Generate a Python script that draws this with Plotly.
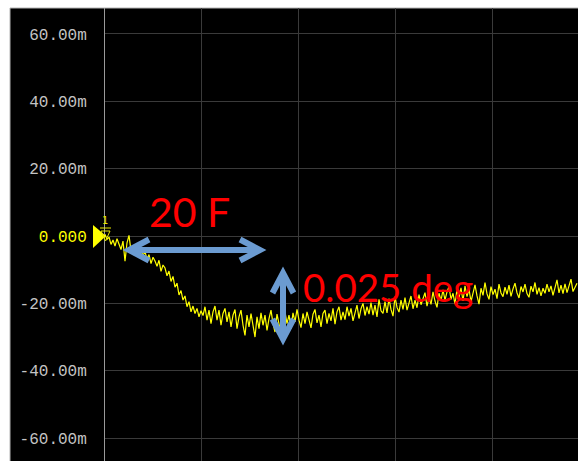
import numpy as np
import plotly.graph_objects as go

# ---- data (sweep points, phase in milli-units) ----
phase_m = [
    0.5, -1.0, -0.3, -2.5, -1.2, -3.0, -0.8, -2.2, -4.0, -1.5,
    -7.5, -2.0, 0.2, -4.5, -2.8, -5.5, -3.6, -6.0, -4.2, -5.8,
    -4.6, -7.0, -5.5, -8.2, -6.3, -7.4, -9.0, -7.2, -10.5, -8.6,
    -9.5, -11.8, -10.4, -13.5, -12.0, -15.2, -14.0, -17.5, -16.2, -19.0,
    -17.8, -21.0, -19.5, -22.5, -20.8, -23.0, -21.5, -24.0, -22.2, -23.6,
    -21.0, -25.0, -22.0, -26.0, -22.5, -20.8, -25.0, -22.0, -26.5, -23.0,
    -21.5, -25.5, -22.5, -27.0, -23.5, -21.8, -27.5, -24.0, -22.0, -26.5,
    -29.5, -23.5, -27.0, -23.0, -26.0, -30.0, -24.0, -27.5, -22.8, -26.5,
    -23.5, -28.0, -24.5, -22.0, -26.0, -28.5, -23.2, -25.8, -29.0, -24.0,
    -22.5, -26.0, -23.5, -27.5, -22.8, -25.5, -21.8, -25.0, -27.2, -23.0,
    -26.0, -22.5, -25.2, -27.3, -23.2, -21.8, -25.8, -23.5, -27.0, -23.0,
    -22.0, -26.0, -23.0, -25.2, -21.5, -26.2, -22.5, -21.0, -25.0, -22.5,
    -24.8, -21.0, -23.8, -21.5, -25.2, -22.3, -20.5, -24.5, -21.6, -20.0,
    -23.6, -21.0, -23.2, -19.8, -23.5, -20.5, -24.0, -18.8, -22.2, -23.0,
    -19.5, -22.8, -18.6, -21.8, -23.8, -18.0, -21.2, -22.6, -19.0, -21.8,
    -18.3, -22.0, -20.0, -17.8, -21.6, -19.0, -21.3, -17.4, -20.4, -18.8,
    -16.8, -20.8, -18.2, -20.3, -16.6, -19.3, -21.2, -17.0, -19.2, -16.0,
    -19.0, -16.6, -15.0, -18.8, -17.0, -20.2, -15.8, -18.3, -15.4, -19.3,
    -14.8, -18.0, -15.8, -19.5, -16.6, -14.5, -17.8, -20.2, -15.5, -17.6,
    -13.8, -17.2, -18.8, -15.0, -17.4, -15.8, -18.6, -14.3, -16.9, -18.0,
    -15.2, -17.3, -14.6, -17.9, -15.7, -14.0, -16.9, -18.4, -15.0, -16.6,
    -14.3, -17.1, -18.2, -14.9, -16.6, -13.8, -17.3, -15.3, -17.8, -15.5,
    -17.0, -14.3, -16.6, -14.8, -17.6, -15.2, -13.0, -16.9, -14.6, -17.1,
    -14.2, -16.8, -14.8, -12.8, -16.5, -15.0, -14.0,
]
points = list(range(len(phase_m)))

y_tickvals = [60, 40, 20, 0, -20, -40, -60]
y_ticktext = ["60.00m", "40.00m", "20.00m",
              '<span style="color:#ffff00">0.000</span>',
              "-20.00m", "-40.00m", "-60.00m"]

label_span = "20 F"
label_phase = "0.025 deg"

# ---- layout geometry ----
L, T, W, H = 105, 8, 473, 453
def fx(px):
    return (px - L) / W
def fy(py):
    return (T + H - py) / H

fig = go.Figure()
fig.add_trace(go.Scatter(x=points, y=phase_m, mode="lines",
                         line=dict(color="#ffff00", width=1.2), hoverinfo="skip"))

shapes = []
# black instrument screen with light border
shapes.append(dict(type="rect", xref="paper", yref="paper",
                   x0=fx(10), x1=1.02, y0=-0.02, y1=1,
                   fillcolor="black", line=dict(color="#b4b4b4", width=1), layer="below"))
# reference level triangle
shapes.append(dict(type="path", xref="paper", yref="paper",
                   path=f"M {fx(93)},{fy(225)} L {fx(106)},{fy(236)} L {fx(93)},{fy(248)} Z",
                   fillcolor="#ffff00", line=dict(width=0)))
# marker 1 symbol
shapes.append(dict(type="path", xref="paper", yref="paper",
                   path=f"M {fx(100)},{fy(228)} L {fx(111)},{fy(228)} M {fx(101)},{fy(231)} L {fx(110)},{fy(231)} L {fx(105.5)},{fy(241)} Z",
                   line=dict(color="#e8e800", width=1)))
arrow_col = "#6b9bd1"
aw = 6
# horizontal double arrow
shapes.append(dict(type="path", xref="paper", yref="paper",
                   path=(f"M {fx(128)},{fy(250)} L {fx(261)},{fy(250)} "
                         f"M {fx(149)},{fy(239.5)} L {fx(129)},{fy(250)} L {fx(149)},{fy(260.5)} "
                         f"M {fx(240)},{fy(239.5)} L {fx(260)},{fy(250)} L {fx(240)},{fy(260.5)}"),
                   line=dict(color=arrow_col, width=aw)))
# vertical double arrow
shapes.append(dict(type="path", xref="paper", yref="paper",
                   path=(f"M {fx(283)},{fy(275)} L {fx(283)},{fy(337)} "
                         f"M {fx(272.5)},{fy(293)} L {fx(283)},{fy(273)} L {fx(293.5)},{fy(293)} "
                         f"M {fx(272.5)},{fy(319)} L {fx(283)},{fy(339)} L {fx(293.5)},{fy(319)}"),
                   line=dict(color=arrow_col, width=aw)))

annotations = [
    dict(xref="paper", yref="paper", x=fx(104.5), y=fy(221), text="1", showarrow=False,
         font=dict(family="DejaVu Sans Mono", size=10, color="#e8e800"),
         xanchor="center", yanchor="middle"),
    dict(xref="paper", yref="paper", x=fx(147), y=fy(212), text=label_span, showarrow=False,
         font=dict(family="Lato", size=41, color="#ff0000"),
         xanchor="left", yanchor="middle"),
    dict(xref="paper", yref="paper", x=fx(301), y=fy(287), text=label_phase, showarrow=False,
         font=dict(family="Lato", size=38.5, color="#ff0000"),
         xanchor="left", yanchor="middle"),
]

fig.update_layout(
    width=578, height=461,
    margin=dict(l=L, r=0, t=T, b=0),
    paper_bgcolor="white", plot_bgcolor="black",
    showlegend=False,
    shapes=shapes, annotations=annotations,
    xaxis=dict(range=[0, 236.5], showticklabels=False, ticks="",
               tick0=0, dtick=48.4, showgrid=True, gridcolor="#3a3a3a", gridwidth=1,
               zeroline=False, showline=False, fixedrange=True),
    yaxis=dict(range=[-66.8, 67.7], tickvals=y_tickvals, ticktext=y_ticktext,
               tickfont=dict(family="Liberation Mono", size=16, color="#c4c4c4"),
               showgrid=True, gridcolor="#3a3a3a", gridwidth=1, zeroline=False,
               showline=True, linecolor="#9a9a9a", linewidth=1, ticks="",
               ticklabelstandoff=14, fixedrange=True),
)

fig.write_html("out.html")
